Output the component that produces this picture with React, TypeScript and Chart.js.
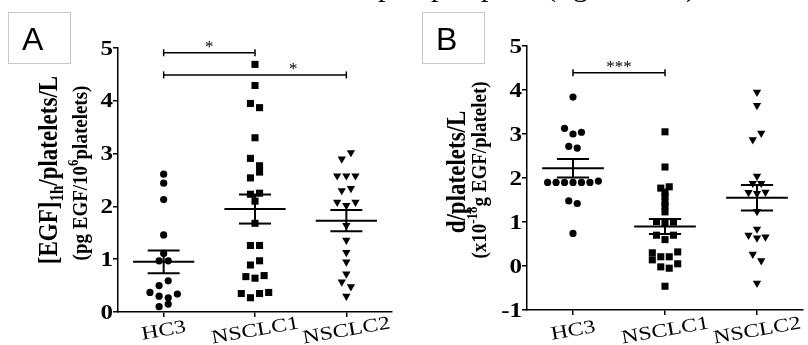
import React, { useEffect, useRef } from "react";
import { Chart, registerables } from "chart.js";

Chart.register(...registerables);

// ---------- data ----------
const categories = ["HC3", "NSCLC1", "NSCLC2"];

// Panel A: values grouped in rows of equal height (top to bottom, left to right)
const hc3A = [[2.61], [2.44], [2.13], [1.46], [1.11], [0.97, 0.97], [0.5, 0.59], [0.37, 0.3, 0.27, 0.34], [0.1, 0.15]];
const nsclc1A = [[4.69], [4.29], [3.95, 3.87], [3.3], [2.91, 2.77], [2.54, 2.65], [2.23, 2.25], [2.1], [1.68], [1.26, 1.26], [0.89, 0.97], [0.67, 0.64, 0.69], [0.35, 0.27, 0.35, 0.37]];
const nsclc2A = [[2.9, 3.02], [2.58, 2.58, 2.58], [2.3, 2.34], [2.08, 2.02, 2.08], [1.64], [1.36], [1.13], [0.95], [0.72], [0.57, 0.48], [0.3]];
const meanA = [0.95, 1.95, 1.73];
const semA = [0.215, 0.275, 0.2];
const yTicksA = [0, 1, 2, 3, 4, 5];
const sigA = [
  { from: 0, to: 1, level: 4.91, label: "*", at: 0.5 },
  { from: 0, to: 2, level: 4.49, label: "*", at: 1.42 },
];

// Panel B
const hc3B = [[3.84], [3.13, 3.0, 3.04], [2.72, 2.68], [1.9, 1.9, 1.9, 1.9, 1.9, 1.9, 1.93], [1.48, 1.42], [0.74]];
const nsclc1B = [[3.05], [2.25], [1.77, 1.8], [1.68], [1.59], [1.46], [1.36], [1.23], [1.01, 0.97, 1.0], [0.7, 0.6, 0.7], [0.3, 0.21, 0.21, 0.32], [0.14, -0.02, -0.05, 0.05], [-0.46]];
const nsclc2B = [[3.95], [3.65], [2.87, 3.02], [2.04], [1.88, 1.88], [1.67, 1.65, 1.68], [1.24], [0.84], [0.7, 0.64, 0.66], [0.27, 0.12], [-0.39]];
const meanB = [2.22, 0.9, 1.55];
const semB = [0.21, 0.17, 0.29];
const yTicksB = [-1, 0, 1, 2, 3, 4, 5];
const sigB = [{ from: 0, to: 1, level: 4.39, label: "***", at: 0.5 }];

// ---------- styling ----------
const SERIF = '"Liberation Serif", "Times New Roman", serif';
const SANS = '"Liberation Sans", Arial, sans-serif';
const pointStyles = ["circle", "rect", "triangle"];
const pointRadii = [3.6, 5, 4.8];
const pointRotations = [0, 0, 180];

type Seg = { t: string; size: number; dy?: number };
type Sig = { from: number; to: number; level: number; label: string; at: number };
type Line = { segs: Seg[]; bx: number; cy: number; sg: number };

interface Panel {
  groups: number[][][];
  means: number[];
  sems: number[];
  yMin: number;
  yMax: number;
  yTicks: number[];
  sig: Sig[];
  step: number;
  left: number;
  top: number;
  right: number;
  bottom: number;
  titles: Line[];
  letter: string;
  boxX: number;
}

const panelA: Panel = {
  groups: [hc3A, nsclc1A, nsclc2A],
  means: meanA,
  sems: semA,
  yMin: 0,
  yMax: 5,
  yTicks: yTicksA,
  sig: sigA,
  step: 0.1,
  left: 118,
  top: 48,
  right: 392,
  bottom: 312,
  titles: [
    {
      segs: [
        { t: "[EGF]", size: 23 },
        { t: "1h", size: 15, dy: -5 },
        { t: "/platelets/L", size: 23 },
      ],
      bx: 57,
      cy: 170,
      sg: 1.2,
    },
    {
      segs: [
        { t: "(pg EGF/10", size: 19 },
        { t: "6", size: 13, dy: 8 },
        { t: "platelets)", size: 19 },
      ],
      bx: 87,
      cy: 173,
      sg: 1.1,
    },
  ],
  letter: "A",
  boxX: 8,
};

const panelB: Panel = {
  groups: [hc3B, nsclc1B, nsclc2B],
  means: meanB,
  sems: semB,
  yMin: -1,
  yMax: 5,
  yTicks: yTicksB,
  sig: sigB,
  step: 0.092,
  left: 123,
  top: 46,
  right: 403,
  bottom: 310,
  titles: [
    { segs: [{ t: "d/platelets/L", size: 23 }], bx: 61, cy: 172, sg: 1.2 },
    {
      segs: [
        { t: "(x10", size: 19 },
        { t: "-18", size: 13, dy: 8 },
        { t: "g EGF/platelet)", size: 19 },
      ],
      bx: 82,
      cy: 170,
      sg: 1.1,
    },
  ],
  letter: "B",
  boxX: 18,
};

const topFragments = [
  { t: "p", x: 378 },
  { t: "p", x: 431 },
  { t: "p", x: 481 },
  { t: "(", x: 546 },
  { t: "g", x: 573 },
  { t: ")", x: 686 },
];

// ---------- helpers ----------
function buildPoints(rows: number[][], cat: number, step: number) {
  const pts: { x: number; y: number }[] = [];
  rows.forEach((row) =>
    row.forEach((v, i) => pts.push({ x: cat + (i - (row.length - 1) / 2) * step, y: v }))
  );
  return pts;
}

function seg(ctx: CanvasRenderingContext2D, x1: number, y1: number, x2: number, y2: number) {
  ctx.beginPath();
  ctx.moveTo(x1, y1);
  ctx.lineTo(x2, y2);
  ctx.stroke();
}

function drawText(
  ctx: CanvasRenderingContext2D,
  text: string,
  x: number,
  y: number,
  font: string,
  align: CanvasTextAlign,
  sx: number,
  rot = 0
) {
  ctx.save();
  ctx.translate(x, y);
  if (rot) ctx.rotate(rot);
  ctx.scale(sx, 1);
  ctx.font = font;
  ctx.textAlign = align;
  ctx.textBaseline = "alphabetic";
  ctx.fillText(text, 0, 0);
  ctx.restore();
}

function drawRich(ctx: CanvasRenderingContext2D, line: Line) {
  ctx.save();
  ctx.translate(line.bx, line.cy);
  ctx.rotate(-Math.PI / 2);
  ctx.scale(1, line.sg);
  ctx.textAlign = "left";
  ctx.textBaseline = "alphabetic";
  const widths = line.segs.map((s) => {
    ctx.font = `bold ${s.size}px ${SERIF}`;
    return ctx.measureText(s.t).width;
  });
  const total = widths.reduce((a, b) => a + b, 0);
  let x = -total / 2;
  line.segs.forEach((s, i) => {
    ctx.font = `bold ${s.size}px ${SERIF}`;
    ctx.fillText(s.t, x, -(s.dy || 0));
    x += widths[i];
  });
  ctx.restore();
}

function overlay(p: Panel) {
  return {
    id: "overlay" + p.letter,
    afterDatasetsDraw(chart: any) {
      const ctx: CanvasRenderingContext2D = chart.ctx;
      const xs = chart.scales.x;
      const ys = chart.scales.y;
      ctx.save();
      ctx.strokeStyle = "#000";
      ctx.fillStyle = "#000";
      ctx.lineCap = "butt";

      // mean +/- SEM
      ctx.lineWidth = 2;
      p.means.forEach((m, k) => {
        const ym = ys.getPixelForValue(m);
        seg(ctx, xs.getPixelForValue(k - 0.335), ym, xs.getPixelForValue(k + 0.335), ym);
        const yu = ys.getPixelForValue(m + p.sems[k]);
        const yl = ys.getPixelForValue(m - p.sems[k]);
        const xc = xs.getPixelForValue(k);
        seg(ctx, xc, yu, xc, yl);
        seg(ctx, xs.getPixelForValue(k - 0.175), yu, xs.getPixelForValue(k + 0.175), yu);
        seg(ctx, xs.getPixelForValue(k - 0.175), yl, xs.getPixelForValue(k + 0.175), yl);
      });

      // significance brackets
      ctx.lineWidth = 1.5;
      p.sig.forEach((s) => {
        const y = ys.getPixelForValue(s.level);
        const x1 = xs.getPixelForValue(s.from);
        const x2 = xs.getPixelForValue(s.to);
        seg(ctx, x1, y, x2, y);
        seg(ctx, x1, y - 3.5, x1, y + 3.5);
        seg(ctx, x2, y - 3.5, x2, y + 3.5);
        drawText(ctx, s.label, xs.getPixelForValue(s.at), y - 1, `17px ${SERIF}`, "center", 1);
      });

      // y tick labels
      p.yTicks.forEach((v) => {
        const y = ys.getPixelForValue(v);
        drawText(ctx, String(v), xs.left - 5, y + 6.5, `bold 20px ${SERIF}`, "right", 1.25);
      });

      // x category labels (rotated, centred on the tick)
      categories.forEach((c, k) => {
        const x = xs.getPixelForValue(k);
        ctx.save();
        ctx.translate(x, 330);
        ctx.rotate((-10 * Math.PI) / 180);
        ctx.scale(1.25, 1);
        ctx.font = `19px ${SERIF}`;
        ctx.textAlign = "center";
        ctx.textBaseline = "alphabetic";
        ctx.fillText(c, 0, 6);
        ctx.restore();
      });

      // axis titles
      p.titles.forEach((t) => drawRich(ctx, t));

      // panel letter box
      ctx.strokeStyle = "#c8c8c8";
      ctx.lineWidth = 1;
      ctx.strokeRect(p.boxX + 0.5, 12.5, 62, 51);
      ctx.font = `32px ${SANS}`;
      ctx.textAlign = "left";
      ctx.textBaseline = "alphabetic";
      ctx.fillStyle = "#000";
      ctx.fillText(p.letter, p.boxX + 14, 50);
      ctx.restore();
    },
  };
}

function makeConfig(p: Panel): any {
  const canvasW = 404;
  const canvasH = 345;
  const gridOpts = {
    display: true,
    drawOnChartArea: false,
    drawTicks: true,
    tickLength: 5,
    color: "#000",
    lineWidth: 1.5,
  };
  const borderOpts = { display: true, color: "#000", width: 1.5 };
  return {
    type: "scatter",
    data: {
      datasets: p.groups.map((rows, k) => ({
        label: categories[k],
        data: buildPoints(rows, k, p.step),
        pointStyle: pointStyles[k],
        pointRadius: pointRadii[k],
        pointHoverRadius: pointRadii[k],
        pointRotation: pointRotations[k],
        backgroundColor: "#000",
        borderColor: "#000",
        borderWidth: 0,
      })),
    },
    options: {
      animation: false,
      responsive: false,
      devicePixelRatio: 1,
      events: [],
      layout: { padding: { top: p.top, right: canvasW - p.right, left: 0, bottom: 0 } },
      plugins: { legend: { display: false }, tooltip: { enabled: false } },
      scales: {
        x: {
          type: "linear",
          min: -0.5,
          max: 2.5,
          afterBuildTicks: (s: any) => {
            s.ticks = categories.map((_, i) => ({ value: i }));
          },
          ticks: { display: false },
          grid: gridOpts,
          border: borderOpts,
          afterFit: (s: any) => {
            s.height = canvasH - p.bottom;
          },
        },
        y: {
          type: "linear",
          min: p.yMin,
          max: p.yMax,
          afterBuildTicks: (s: any) => {
            s.ticks = p.yTicks.map((v) => ({ value: v }));
          },
          ticks: { display: false },
          grid: gridOpts,
          border: borderOpts,
          afterFit: (s: any) => {
            s.width = p.left;
          },
        },
      },
    },
    plugins: [overlay(p)],
  };
}

export default function App() {
  const refA = useRef<HTMLCanvasElement>(null);
  const refB = useRef<HTMLCanvasElement>(null);

  useEffect(() => {
    const ca = new Chart(refA.current as HTMLCanvasElement, makeConfig(panelA));
    const cb = new Chart(refB.current as HTMLCanvasElement, makeConfig(panelB));
    return () => {
      ca.destroy();
      cb.destroy();
    };
  }, []);

  return (
    <div
      style={{
        position: "fixed",
        left: 0,
        top: 0,
        width: 808,
        height: 345,
        overflow: "hidden",
        background: "#fff",
      }}
    >
      <canvas
        ref={refA}
        width={404}
        height={345}
        style={{ position: "absolute", left: 0, top: 0, width: 404, height: 345 }}
      />
      <canvas
        ref={refB}
        width={404}
        height={345}
        style={{ position: "absolute", left: 404, top: 0, width: 404, height: 345 }}
      />
      {topFragments.map((f, i) => (
        <span
          key={i}
          style={{
            position: "absolute",
            left: f.x,
            top: -29,
            fontFamily: SERIF,
            fontSize: 30,
            lineHeight: "30px",
            color: "#000",
            whiteSpace: "pre",
          }}
        >
          {f.t}
        </span>
      ))}
    </div>
  );
}
